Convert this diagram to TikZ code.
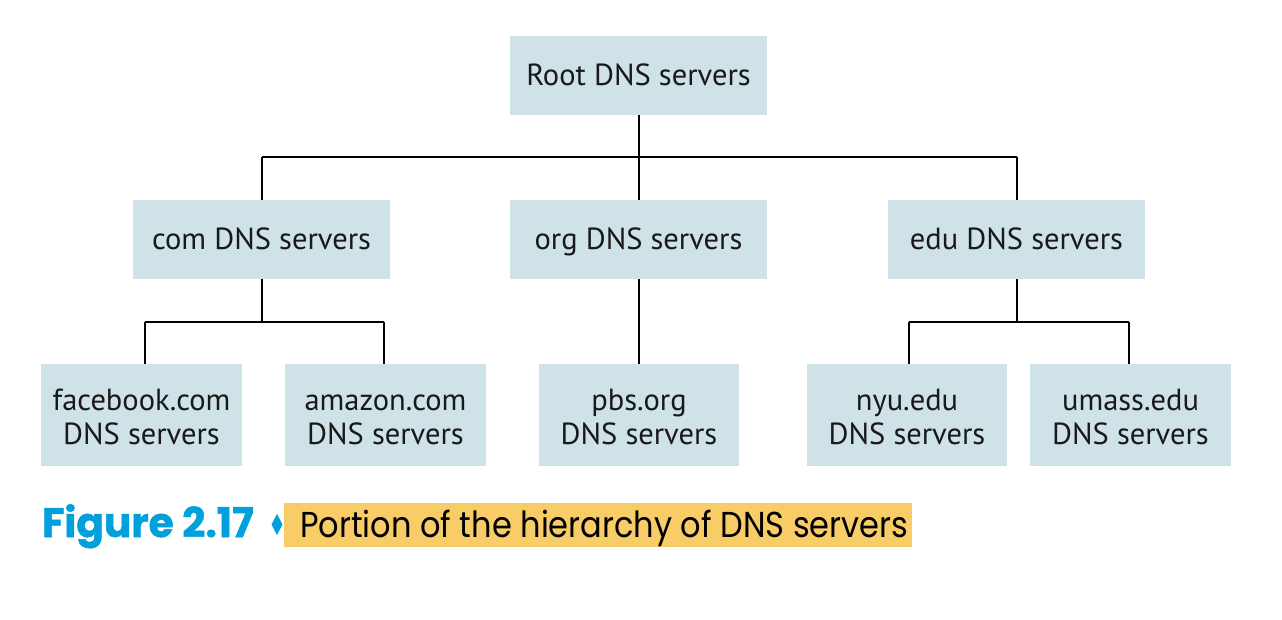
\documentclass[tikz,border=0pt]{standalone}
\usepackage{fontspec}
\setmainfont{PT Sans}
\newfontfamily\capfont[FakeStretch=0.89]{Poppins}
\newfontfamily\figfont[FakeBold=1.2, FakeStretch=0.99]{Poppins}
\definecolor{boxfill}{RGB}{206,226,232}
\definecolor{figblue}{RGB}{0,160,220}
\definecolor{hl}{RGB}{248,204,102}
\tikzset{
  srv/.style={fill=boxfill, draw=none, inner sep=0pt, font=\fontsize{30.5}{34}\selectfont, text=black!90},
  one/.style={srv, minimum width=257pt, minimum height=79pt, text height=21pt, text depth=0pt},
  two/.style={srv, minimum height=102pt},
  lbl/.style={inner sep=0pt, anchor=base, font=\fontsize{30.5}{34}\selectfont, text=black!90},
  conn/.style={draw=black, line width=1.3pt},
}
\begin{document}
\begin{tikzpicture}[x=1pt,y=-1pt]
\useasboundingbox (0,0) rectangle (1282,620);
\node[one] (root) at (638.5,75.5) {Root DNS servers};
\node[one] (com) at (261.5,239.5) {com DNS servers};
\node[one] (org) at (638.5,239.5) {org DNS servers};
\node[one] (edu) at (1016.5,239.5) {edu DNS servers};
\node[two, minimum width=201pt] (fb) at (141.5,415) {};
\node[two, minimum width=201pt] (am) at (385.5,415) {};
\node[two, minimum width=200pt] (pbs) at (639,415) {};
\node[two, minimum width=200pt] (nyu) at (907,415) {};
\node[two, minimum width=201pt] (um) at (1130.5,415) {};
\node[lbl] (fb1) at (141.5,410) {facebook.com};
\node[lbl] (fb2) at (141.5,444) {DNS servers};
\node[lbl] (am1) at (385.5,410) {amazon.com};
\node[lbl] (am2) at (385.5,444) {DNS servers};
\node[lbl] (pbs1) at (639,410) {pbs.org};
\node[lbl] (pbs2) at (639,444) {DNS servers};
\node[lbl] (nyu1) at (907,410) {nyu.edu};
\node[lbl] (nyu2) at (907,444) {DNS servers};
\node[lbl] (um1) at (1130.5,410) {umass.edu};
\node[lbl] (um2) at (1130.5,444) {DNS servers};
% connectors
\coordinate (rj) at (639,157);
\draw[conn] (root.south -| rj) -- (rj);
\draw[conn] (262,157) -- (1017,157);
\draw[conn] (262,157) -- (262,200);
\draw[conn] (rj) -- (rj |- org.north);
\draw[conn] (1017,157) -- (1017,200);
\coordinate (cj) at (262,322);
\draw[conn] (com.south -| cj) -- (cj);
\draw[conn] (145,322) -- (384,322);
\draw[conn] (145,322) -- (145,364);
\draw[conn] (384,322) -- (384,364);
\draw[conn] (org.south -| pbs.north) -- (pbs.north);
\coordinate (ej) at (1017,322);
\draw[conn] (edu.south -| ej) -- (ej);
\draw[conn] (909,322) -- (1129,322);
\draw[conn] (909,322) -- (909,364);
\draw[conn] (1129,322) -- (1129,364);
% caption
\fill[hl] (284,503) rectangle (912,547);
\node[anchor=base west, inner sep=0pt, text=figblue, font=\figfont\bfseries\fontsize{41}{42}\selectfont] (fig) at (42,537) {Figure 2.17};
\fill[figblue] (277,514) -- (282.5,524.5) -- (277,535) -- (271.5,524.5) -- cycle;
\node[anchor=base west, inner sep=0pt, text=black, font=\capfont\fontsize{36}{40}\selectfont] (cap) at (300,537) {Portion of the hierarchy of DNS servers};
\end{tikzpicture}
\end{document}
